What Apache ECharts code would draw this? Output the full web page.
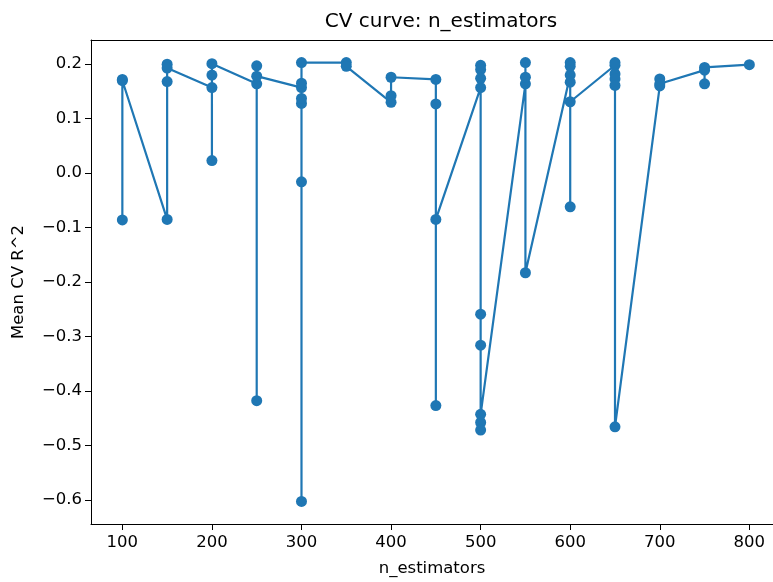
<!DOCTYPE html>
<html>
<head>
<meta charset="utf-8">
<title>CV curve: n_estimators</title>
<script src="https://cdn.jsdelivr.net/npm/echarts@6/dist/echarts.min.js"></script>
<style>
  html, body { margin: 0; padding: 0; background: #fff; }
  #chart { width: 773px; height: 582px; }
</style>
</head>
<body>
<div id="chart"></div>
<script>
// one row per CV run, in the order they were plotted
const nEstimators = [
  100, 100, 100,
  150, 150, 150, 150,
  200, 200, 200, 200,
  250, 250, 250, 250,
  300, 300, 300, 300, 300, 300, 300,
  350, 350,
  400, 400, 400,
  450, 450, 450, 450,
  500, 500, 500, 500, 500, 500, 500, 500, 500,
  550, 550, 550, 550,
  600, 600, 600, 600, 600, 600,
  650, 650, 650, 650, 650, 650,
  700, 700, 700,
  750, 750, 750,
  800
];
const meanR2 = [
  0.172, -0.086, 0.170,
  -0.085, 0.168, 0.200, 0.193,
  0.157, 0.023, 0.180, 0.201,
  0.164, -0.418, 0.197, 0.178,
  0.157, -0.603, 0.128, -0.016, 0.137, 0.165, 0.203,
  0.203, 0.196,
  0.130, 0.142, 0.176,
  0.172, -0.427, 0.127, -0.085,
  0.157, 0.198, 0.190, 0.174, -0.259, -0.316, -0.458, -0.472, -0.443,
  0.164, 0.203, 0.176, -0.183,
  0.180, 0.203, 0.196, 0.167, -0.062, 0.131,
  0.198, 0.203, 0.182, 0.173, 0.161, -0.466,
  0.160, 0.173, 0.164,
  0.189, 0.164, 0.194,
  0.199
];
const xTicks = [100, 200, 300, 400, 500, 600, 700, 800];
const yTicks = [-0.6, -0.5, -0.4, -0.3, -0.2, -0.1, 0.0, 0.1, 0.2];

const font = 'DejaVu Sans';
const blue = '#1f77b4';
const xMin = 65, xMax = 826.4;   // right side of the axes is cut off by the frame

const fmtY = v => v.toFixed(1).replace('-', '\u2212');

const chart = echarts.init(document.getElementById('chart'));
chart.setOption({
  animation: false,
  backgroundColor: '#fff',
  title: {
    text: 'CV curve: n_estimators',
    left: 436,
    textAlign: 'center',
    top: 7,
    textStyle: { fontFamily: font, fontSize: 20, fontWeight: 'normal', color: '#000' }
  },
  grid: {
    left: 91, right: 0, top: 40, bottom: 57,
    containLabel: false
  },
  xAxis: [{
    type: 'value',
    min: xMin, max: xMax,
    name: 'n_estimators',
    nameLocation: 'middle',
    nameGap: 36,
    nameTextStyle: { fontFamily: font, fontSize: 16.5, color: '#000' },
    splitLine: { show: false },
    axisLine: { onZero: false, lineStyle: { color: '#000', width: 1 } },
    axisTick: { length: 6, lineStyle: { color: '#000' }, customValues: xTicks },
    axisLabel: { customValues: xTicks, margin: 10, fontFamily: font, fontSize: 16.5, color: '#000' }
  }, {
    // top spine
    type: 'value',
    position: 'top',
    min: xMin, max: xMax,
    splitLine: { show: false },
    axisLine: { onZero: false, lineStyle: { color: '#000', width: 1 } },
    axisTick: { show: false },
    axisLabel: { show: false }
  }],
  yAxis: {
    type: 'value',
    min: -0.6444, max: 0.2444,
    name: 'Mean CV R^2',
    nameLocation: 'middle',
    nameGap: 64,
    nameTextStyle: { fontFamily: font, fontSize: 16.5, color: '#000' },
    splitLine: { show: false },
    axisLine: { show: true, onZero: false, lineStyle: { color: '#000', width: 1 } },
    axisTick: { show: true, length: 6, lineStyle: { color: '#000' }, customValues: yTicks },
    axisLabel: { customValues: yTicks, margin: 9, fontFamily: font, fontSize: 16.5, color: '#000', formatter: fmtY }
  },
  series: [{
    type: 'line',
    xAxisIndex: 0,
    data: nEstimators.map((n, i) => [n, meanR2[i]]),
    symbol: 'circle',
    symbolSize: 11,
    showAllSymbol: true,
    itemStyle: { color: blue },
    lineStyle: { color: blue, width: 2.2 },
    emphasis: { disabled: true }
  }]
});
</script>
</body>
</html>
